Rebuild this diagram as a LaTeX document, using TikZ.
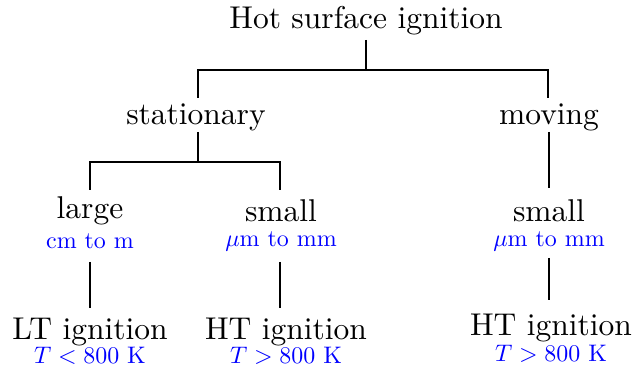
\documentclass[tikz,border=0pt]{standalone}
\usepackage{graphicx}
\newcommand{\subtxt}[1]{\scalebox{0.76}{\fontsize{10}{12}\selectfont #1}}
\begin{document}
\begin{tikzpicture}[x=0.3175pt,y=-0.3175pt,
  lbl/.style={inner sep=0pt,font=\fontsize{10}{12}\selectfont,anchor=center},
  sub/.style={inner sep=0pt,text=blue,anchor=center},
  conn/.style={line width=0.6pt,draw=black}]
\useasboundingbox (0,0) rectangle (632,371);
% nodes
\node[lbl] (root) at (366,21) {Hot surface ignition};
\node[lbl] (stat) at (196,117) {stationary};
\node[lbl] (mov) at (549,117) {moving};
\node[lbl] (large) at (90,211) {large};
\node[sub] (larges) at (90,241) {\subtxt{cm to m}};
\node[lbl] (small1) at (281,211) {small};
\node[sub] (small1s) at (281,241) {\subtxt{$\mu$m to mm}};
\node[lbl] (small2) at (549,211) {small};
\node[sub] (small2s) at (549,241) {\subtxt{$\mu$m to mm}};
\node[lbl] (lt) at (90,332) {LT ignition};
\node[sub] (lts) at (90,356) {\subtxt{$T<800$ K}};
\node[lbl] (ht1) at (286,332) {HT ignition};
\node[sub] (ht1s) at (286,356) {\subtxt{$T>800$ K}};
\node[lbl] (ht2) at (551,328) {HT ignition};
\node[sub] (ht2s) at (551,354) {\subtxt{$T>800$ K}};
% junction coordinates
\coordinate (r0) at (366,40);
\coordinate (bar1) at (366,70);
\coordinate (sL) at (198,98);
\coordinate (sR) at (548,98);
\coordinate (s0) at (198,132);
\coordinate (bar2) at (198,162);
\coordinate (lL) at (90,190);
\coordinate (lR) at (280,190);
\coordinate (m1) at (549,188);
\coordinate (a0) at (90,262);
\coordinate (a1) at (90,308);
\coordinate (b0) at (280,262);
\coordinate (b1) at (280,308);
\coordinate (c0) at (549,258);
\coordinate (c1) at (549,300);
% connectors
\draw[conn] (r0) -- (bar1);
\draw[conn] (sL) |- (bar1) -| (sR);
\draw[conn] (s0) -- (bar2);
\draw[conn] (lL) |- (bar2) -| (lR);
\draw[conn] (mov.south |- s0) -- (m1);
\draw[conn] (a0) -- (a1);
\draw[conn] (b0) -- (b1);
\draw[conn] (c0) -- (c1);
\end{tikzpicture}
\end{document}
